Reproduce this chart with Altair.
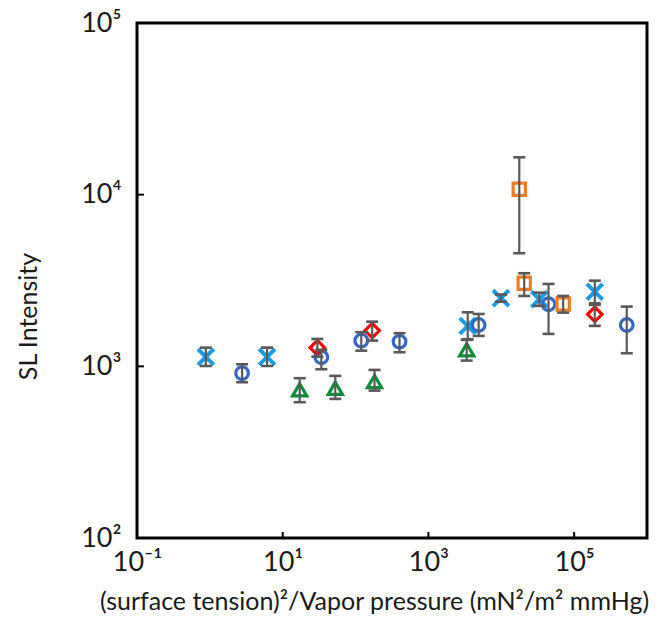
import altair as alt
import pandas as pd
import math

# ---- data ----
cross_x = [0.88, 6.1, 3460, 9900, 33200, 192000]
cross_y = [1135, 1135, 1718, 2496, 2460, 2720]
cross_lo = [1005, 1005, 1438, 2380, 2250, 2330]
cross_hi = [1285, 1285, 2065, 2620, 2687, 3155]

circle_x = [2.77, 33.9, 119.7, 401, 4890, 44500, 527000]
circle_y = [912, 1130, 1413, 1393, 1741, 2300, 1741]
circle_lo = [808, 962, 1234, 1208, 1504, 1545, 1192]
circle_hi = [1028, 1247, 1580, 1560, 2018, 3020, 2228]

tri_x = [17.1, 52.7, 182, 3350]
tri_y = [730, 745, 815, 1248]
tri_lo = [618, 646, 722, 1080]
tri_hi = [853, 880, 953, 1426]

dia_x = [29.9, 169, 192000]
dia_y = [1285, 1615, 2010]
dia_lo = [1138, 1412, 1720]
dia_hi = [1444, 1820, 2280]

sq_x = [17650, 20650, 70700]
sq_y = [10740, 3050, 2305]
sq_lo = [4560, 2570, 2055]
sq_hi = [16500, 3485, 2570]

series_names = ["cross", "circle", "triangle", "diamond", "square"]
series_colors = ["#1A9BE6", "#3468C4", "#0E8C3A", "#FF0000", "#F07D23"]
series_shapes = ["M-1,-1L1,1M-1,1L1,-1", "circle", "triangle-up", "diamond", "square"]
series_sizes = [250, 160, 200, 210, 150]
series_strokes = [4, 3.2, 3.2, 3.2, 3.2]

x_tick_values = [0.1, 10, 1000, 100000]
x_tick_labels = ["10⁻¹", "10¹", "10³", "10⁵"]
y_tick_values = [100, 1000, 10000, 100000]
y_tick_labels = ["10²", "10³", "10⁴", "10⁵"]
x_inner_ticks = [10, 1000, 100000]
y_inner_ticks = [1000, 10000]

x_title = "(surface tension)²/Vapor pressure (mN²/m² mmHg)"
y_title = "SL Intensity"

# ---- build table ----
rows = []
for name, xs, ys, los, his in [
    ("cross", cross_x, cross_y, cross_lo, cross_hi),
    ("circle", circle_x, circle_y, circle_lo, circle_hi),
    ("triangle", tri_x, tri_y, tri_lo, tri_hi),
    ("diamond", dia_x, dia_y, dia_lo, dia_hi),
    ("square", sq_x, sq_y, sq_lo, sq_hi),
]:
    for x, y, lo, hi in zip(xs, ys, los, his):
        rows.append({"series": name, "x": x, "y": y, "lo": lo, "hi": hi})
df = pd.DataFrame(rows)


def label_expr(values, labels):
    expr = "''"
    for v, l in reversed(list(zip(values, labels))):
        expr = f"(abs(log(datum.value)/LN10 - ({math.log10(v)})) < 0.01 ? '{l}' : {expr})"
    return expr


FONT = "Lato"
TXT = "#1a1a1a"

xscale = alt.Scale(type="log", domain=[0.1, 1e6], nice=False)
yscale = alt.Scale(type="log", domain=[100, 1e5], nice=False)

W, H = 510, 515

xaxis = alt.Axis(
    values=x_tick_values,
    labelExpr=label_expr(x_tick_values, x_tick_labels),
    ticks=False, domain=False, grid=False,
    labelFont=FONT, labelFontSize=27, labelColor=TXT, labelPadding=11,
    labelFlush=False, labelOverlap=False,
    title=x_title, titleFont=FONT, titleFontSize=25, titleFontWeight="normal",
    titleColor=TXT, titleX=237, titleY=63, titleBaseline="middle", titleAnchor="middle",
)
yaxis = alt.Axis(
    values=y_tick_values,
    labelExpr=label_expr(y_tick_values, y_tick_labels),
    ticks=False, domain=False, grid=False,
    labelFont=FONT, labelFontSize=27, labelColor=TXT, labelPadding=16,
    labelFlush=False, labelOverlap=False, labelBaseline="middle",
    title=y_title, titleFont=FONT, titleFontSize=25, titleFontWeight="normal",
    titleColor=TXT, titleX=-109, titleY=293, titleAngle=-90,
    titleAlign="center", titleBaseline="middle",
)

base = alt.Chart(df)

points = base.mark_point(filled=False, opacity=1).encode(
    x=alt.X("x:Q", scale=xscale, axis=xaxis),
    y=alt.Y("y:Q", scale=yscale, axis=yaxis),
    color=alt.Color("series:N", scale=alt.Scale(domain=series_names, range=series_colors), legend=None),
    shape=alt.Shape("series:N", scale=alt.Scale(domain=series_names, range=series_shapes), legend=None),
    size=alt.Size("series:N", scale=alt.Scale(type="ordinal", domain=series_names, range=series_sizes), legend=None),
    strokeWidth=alt.StrokeWidth("series:N", scale=alt.Scale(type="ordinal", domain=series_names, range=series_strokes), legend=None),
)

bars = base.mark_rule(color="#595959", strokeWidth=2.2).encode(
    x=alt.X("x:Q", scale=xscale),
    y=alt.Y("lo:Q", scale=yscale),
    y2="hi:Q",
)

caps = base.transform_fold(["lo", "hi"], as_=["end", "val"]).mark_tick(
    orient="horizontal", color="#595959", size=12, thickness=2.6, opacity=1
).encode(
    x=alt.X("x:Q", scale=xscale),
    y=alt.Y("val:Q", scale=yscale),
)

xt = alt.Chart(pd.DataFrame({"x": x_inner_ticks})).mark_rule(color="black", strokeWidth=2).encode(
    x=alt.X("x:Q", scale=xscale), y=alt.value(H), y2=alt.value(H - 6)
)
yt = alt.Chart(pd.DataFrame({"y": y_inner_ticks})).mark_rule(color="black", strokeWidth=2).encode(
    y=alt.Y("y:Q", scale=yscale), x=alt.value(0), x2=alt.value(7)
)

chart = alt.layer(points, bars, caps, xt, yt).properties(
    width=W, height=H,
    autosize=alt.AutoSizeParams(type="none"),
    padding={"left": 137, "top": 23, "right": 20, "bottom": 83},
    background="white",
).configure_view(stroke="black", strokeWidth=3)

chart.save("out.html", embed_options={"renderer": "svg", "actions": False})
